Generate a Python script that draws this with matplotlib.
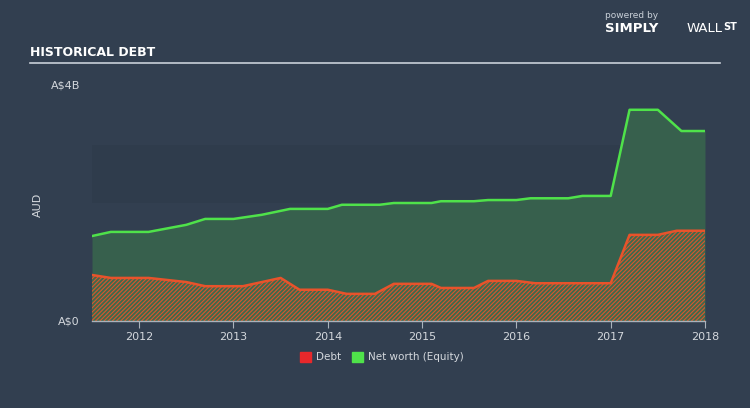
import numpy as np
import matplotlib
matplotlib.use("Agg")
import matplotlib.pyplot as plt

# data (A$ billions), decimal years
eq_dates = [2011.5, 2011.7, 2012.1, 2012.3, 2012.5, 2012.7, 2013.0, 2013.3, 2013.6, 2014.0,
            2014.15, 2014.55, 2014.7, 2015.1, 2015.2, 2015.55, 2015.7, 2016.0, 2016.15,
            2016.55, 2016.7, 2017.0, 2017.2, 2017.5, 2017.75, 2018.0]
equity = [1.44, 1.51, 1.51, 1.57, 1.63, 1.73, 1.73, 1.80, 1.90, 1.90,
          1.97, 1.97, 2.00, 2.00, 2.03, 2.03, 2.05, 2.05, 2.08,
          2.08, 2.12, 2.12, 3.58, 3.58, 3.22, 3.22]

debt_dates = [2011.5, 2011.7, 2012.1, 2012.5, 2012.7, 2013.1, 2013.3, 2013.5, 2013.7, 2014.0,
              2014.2, 2014.5, 2014.7, 2015.1, 2015.2, 2015.55, 2015.7, 2016.0, 2016.2,
              2017.0, 2017.2, 2017.5, 2017.7, 2018.0]
debt = [0.78, 0.73, 0.73, 0.66, 0.59, 0.59, 0.66, 0.73, 0.53, 0.53,
        0.46, 0.46, 0.63, 0.63, 0.56, 0.56, 0.68, 0.68, 0.64,
        0.64, 1.46, 1.46, 1.53, 1.53]

years = [2012, 2013, 2014, 2015, 2016, 2017, 2018]

bg = '#323f50'
txt = '#d4d8dd'

plt.rcParams['hatch.color'] = '#d9552d'
plt.rcParams['hatch.linewidth'] = 0.8

fig = plt.figure(figsize=(7.5, 4.08), dpi=100, facecolor=bg)
ax = fig.add_axes([92/750, 87/408, 613/750, 236/408])
ax.set_facecolor(bg)
ax.set_xlim(2011.5, 2018.0)
ax.set_ylim(0, 4)

# subtle darker band
ax.axhspan(2.0, 2.98, color='#2f3c4c', zorder=0, lw=0)

ax.fill_between(eq_dates, equity, color='#37604d', lw=0, zorder=1)
ax.plot(eq_dates, equity, color='#4fe24a', lw=1.8, zorder=4)

ax.fill_between(debt_dates, debt, facecolor='#3e6a4c', hatch='////////', edgecolor='#d9552d', lw=0, zorder=2)
ax.plot(debt_dates, debt, color='#e8532b', lw=1.8, zorder=4)

for s in ['top', 'right', 'left']:
    ax.spines[s].set_visible(False)
ax.spines['bottom'].set_color('#aab2bb')
ax.spines['bottom'].set_linewidth(1)
ax.set_yticks([])
ax.set_xticks(years)
ax.set_xticklabels([str(y) for y in years], color=txt, fontsize=8)
ax.tick_params(axis='x', colors='#aab2bb', length=5, labelcolor=txt, pad=3)

fig.text(80/750, 1 - 85/408, 'A$4B', color=txt, fontsize=8, ha='right', va='center')
fig.text(80/750, 1 - 321/408, 'A$0', color=txt, fontsize=8, ha='right', va='center')
fig.text(38/750, 1 - 205/408, 'AUD', color=txt, fontsize=8, rotation=90, ha='center', va='center')

fig.text(30/750, 1 - 52/408, 'HISTORICAL DEBT', color='white', fontsize=9, fontweight='bold',
         family=['Liberation Sans Narrow', 'DejaVu Sans'], ha='left', va='center')
fig.add_artist(plt.Line2D([30/750, 720/750], [1 - 63/408, 1 - 63/408], color='#c9d0d8', lw=1.2))

fig.text(605/750, 1 - 15/408, 'powered by', color='#c9d0d8', fontsize=6.5, ha='left', va='center')
fig.text(605/750, 1 - 28/408, 'SIMPLY', color='white', fontsize=9.5, fontweight='bold', ha='left', va='center')
fig.text(687/750, 1 - 28/408, 'WALL', color='white', fontsize=9.5, ha='left', va='center')
fig.text(723/750, 1 - 27/408, 'ST', color='white', fontsize=7, fontweight='bold', ha='left', va='center')

# legend
fig.patches.append(plt.Rectangle((300/750, 1 - 362/408), 11/750, 10/408, color='#e8282b',
                                 transform=fig.transFigure, figure=fig))
fig.text(316/750, 1 - 357/408, 'Debt', color=txt, fontsize=7.5, ha='left', va='center')
fig.patches.append(plt.Rectangle((352/750, 1 - 362/408), 11/750, 10/408, color='#4fe24a',
                                 transform=fig.transFigure, figure=fig))
fig.text(368/750, 1 - 357/408, 'Net worth (Equity)', color=txt, fontsize=7.5, ha='left', va='center')

fig.savefig('out.png', dpi=100, facecolor=bg)
